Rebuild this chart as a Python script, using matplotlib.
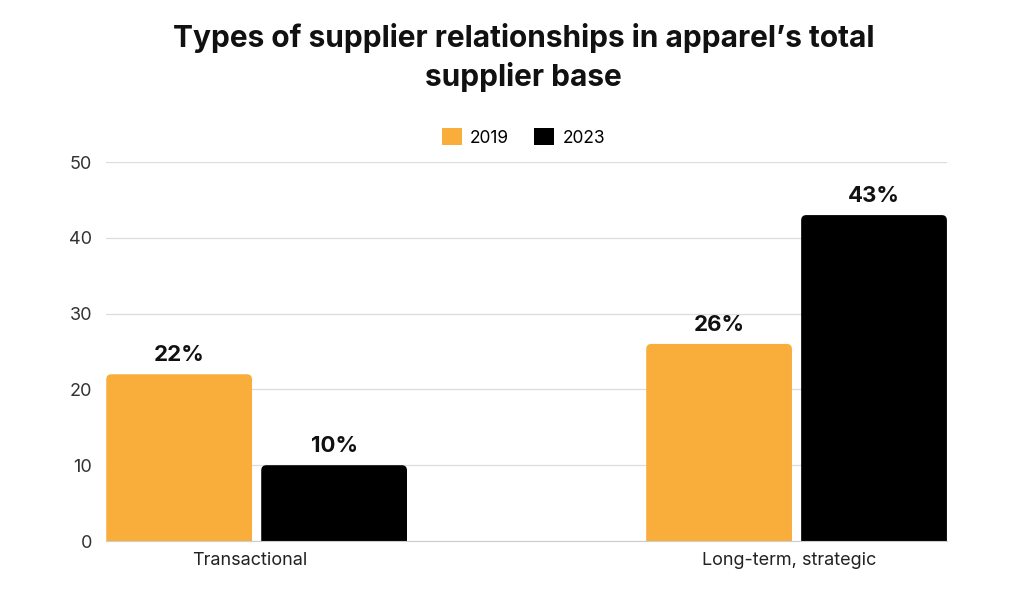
import matplotlib
matplotlib.use("Agg")
import numpy as np
import matplotlib.pyplot as plt
from matplotlib.patches import FancyBboxPatch, Patch

# data
categories = ["Transactional", "Long-term, strategic"]
years = ["2019", "2023"]
vals_2019 = [22, 26]
vals_2023 = [10, 43]
yticks = [0, 10, 20, 30, 40, 50]

colors = ["#F9AE3C", "#000000"]
plt.rcParams['font.family'] = ['Inter', 'DejaVu Sans']

fig = plt.figure(figsize=(10.24, 5.97), dpi=100)
ax = fig.add_axes([0.1035, 0.0938, 0.8215, 0.6348])

x = np.arange(len(categories))
w = 0.27
off = 0.1435
rx = 0.0095   # corner radius in x data units
ry = 0.7      # corner radius in y data units

for vals, dx, c in [(vals_2019, -off, colors[0]), (vals_2023, off, colors[1])]:
    bars = ax.bar(x + dx, vals, width=w, color="none")
    for b, v in zip(bars, vals):
        bx, bw = b.get_x(), b.get_width()
        p = FancyBboxPatch((bx, -3), bw, v + 3,
                           boxstyle="round,pad=0,rounding_size=%f" % rx,
                           mutation_aspect=ry / rx, fc=c, ec="none", zorder=2)
        ax.add_patch(p)
        ax.text(bx + bw / 2, v + 1.2, "%d%%" % v, ha="center", va="bottom",
                fontsize=16, fontweight="bold", color="#111111")

ax.set_xlim(-0.279, 1.279)
ax.set_ylim(0, 50)
ax.set_yticks(yticks)
ax.set_xticks(x - 0.013)
ax.set_xticklabels(categories, fontsize=13, color="#222222")
ax.tick_params(axis="y", labelsize=13, colors="#333333", length=0, pad=10)
ax.tick_params(axis="x", length=0, pad=8)
ax.grid(axis="y", color="#dddddd", linewidth=0.9, zorder=0)
ax.set_axisbelow(True)
for s in ["top", "right", "left"]:
    ax.spines[s].set_visible(False)
ax.spines["bottom"].set_color("#cccccc")
ax.spines["bottom"].set_zorder(3)

handles = [Patch(fc=colors[0]), Patch(fc=colors[1])]
fig.legend(handles, years, loc="center", bbox_to_anchor=(0.511, 0.770), ncol=2,
           frameon=False, fontsize=12.5, handlelength=1.15, handleheight=1.15,
           handletextpad=0.5, columnspacing=1.4)

fig.text(0.511, 0.904, "Types of supplier relationships in apparel\u2019s total\nsupplier base",
         ha="center", va="center", fontsize=21.5, fontweight="bold", linespacing=1.35,
         color="#111111")

fig.savefig("out.png", dpi=100)
